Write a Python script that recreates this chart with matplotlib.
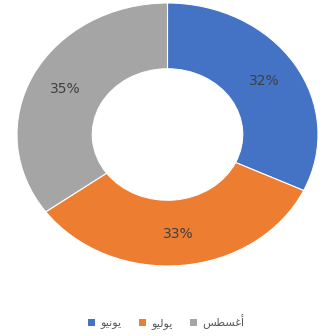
import matplotlib.pyplot as plt
from matplotlib.patches import Patch

# Month names (Arabic), written as presentation forms in visual order
# because matplotlib does no Arabic shaping / bidi.
labels = ["\uFEEE\uFEF4\uFEE7\uFEEE\uFEF3",   # يونيو
          "\uFEEE\uFEF4\uFEDF\uFEEE\uFEF3",   # يوليو
          "\uFEB2\uFEC4\uFEB4\uFECF\uFE83"]   # أغسطس
values = [32, 33, 35]
colors = ["#4472C4", "#ED7D31", "#A5A5A5"]

fig = plt.figure(figsize=(3.26, 3.36), dpi=100)
ax = fig.add_axes([17 / 326, 70 / 336, 301 / 326, 263 / 336])

wedges, texts, autotexts = ax.pie(
    values, colors=colors, startangle=90, counterclock=False,
    autopct="%1.0f%%", pctdistance=0.76,
    wedgeprops=dict(width=0.5, edgecolor="white", linewidth=0.8),
    textprops=dict(color="#404040", fontsize=10))

# the reference donut is a little wider than tall
ax.set_aspect("auto")
ax.set_xlim(-1, 1)
ax.set_ylim(-1, 1)
ax.axis("off")

handles = [Patch(facecolor=c, edgecolor="none") for c in colors]
fig.legend(handles, labels, loc="center", bbox_to_anchor=(0.51, 1 - 322 / 336),
           ncol=3, frameon=False, handlelength=0.6, handleheight=0.6,
           handletextpad=0.5, columnspacing=1.6,
           prop=dict(family="DejaVu Sans", size=8), labelcolor="#595959")

fig.savefig("out.png", dpi=100, facecolor="white")
